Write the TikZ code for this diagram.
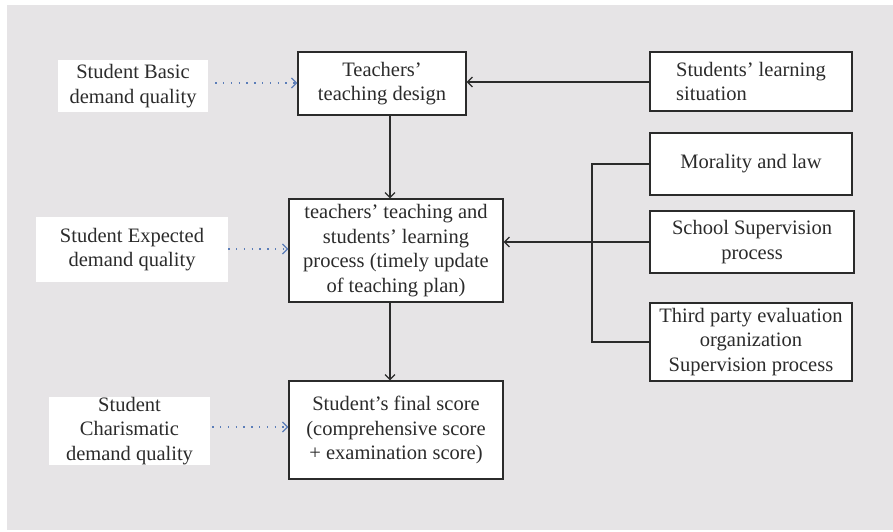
\documentclass[tikz,border=0pt]{standalone}
\usepackage{fontspec}
\setmainfont{Liberation Serif}
\usetikzlibrary{arrows.meta}
\definecolor{bg}{HTML}{E6E4E6}
\definecolor{dotblue}{HTML}{5B7DB8}
\definecolor{ink}{HTML}{2B2B2B}
\begin{document}
\begin{tikzpicture}[x=1pt,y=-1pt,
  txt/.style={inner sep=0pt,align=center,text=ink,font=\fontsize{20.5}{24.5}\selectfont},
  box/.style={txt,draw=ink,line width=1.2pt,fill=white},
  plain/.style={txt,fill=white},
  arr/.style={draw=ink,line width=1.2pt,-{Straight Barb[length=5pt,width=10pt]}},
  link/.style={draw=ink,line width=1.2pt},
  dotarr/.style={draw=dotblue,line width=1.3pt,dash pattern=on 1.3pt off 6.5pt,-{Straight Barb[length=5pt,width=10pt]}}]
\useasboundingbox (0,0) rectangle (893,531);
\fill[bg] (7,5) rectangle (893,530);

% left quality labels
\node[plain,minimum width=150pt,minimum height=52pt] (basic) at (133,86) {Student Basic\\demand quality};
\node[plain,minimum width=192pt,minimum height=65pt] (expected) at (132,249.5) {Student Expected\\demand quality};
\node[plain,minimum width=161pt,minimum height=64pt] (charis) at (129.5,431) {Student\\Charismatic\\demand quality};

% central column
\node[box,minimum width=168pt,minimum height=63pt] (design) at (382,83.5) {Teachers'\\teaching design};
\node[box,minimum width=214pt,minimum height=103pt] (process) at (396,250.5) {teachers' teaching and\\students' learning\\process (timely update\\of teaching plan)};
\node[box,minimum width=214pt,minimum height=98pt] (final) at (396,430) {Student's final score\\(comprehensive score\\+ examination score)};

% right column
\node[box,align=left,minimum width=202pt,minimum height=59pt] (situation) at (751,81.5) {Students' learning\\ situation};
\node[box,minimum width=202pt,minimum height=62pt] (moral) at (751,164) {Morality and law};
\node[box,minimum width=204pt,minimum height=62pt] (school) at (752,242) {School Supervision\\process};
\node[box,minimum width=202pt,minimum height=78pt] (third) at (751,342) {Third party evaluation\\organization\\Supervision process};

% dotted arrows
\draw[dotarr,shorten <=7pt] (basic.east |- 0,83) -- (design.west |- 0,83);
\draw[dotarr] (expected.east |- 0,249) -- (process.west |- 0,249);
\draw[dotarr,shorten <=2pt] (charis.east |- 0,427) -- (final.west |- 0,427);

% solid arrows
\draw[arr] (situation.west |- 0,82) -- (design.east |- 0,82);
\draw[arr] (design.south -| 390,0) -- (process.north -| 390,0);
\draw[arr] (process.south -| 390,0) -- (final.north -| 390,0);
\draw[arr] (school.west) -- (process.east |- school.west);

% bracket
\coordinate (bt) at (592,164);
\coordinate (bb) at (592,342);
\draw[link] (moral.west) -- (bt) -- (bb) -- (third.west);
\end{tikzpicture}
\end{document}
